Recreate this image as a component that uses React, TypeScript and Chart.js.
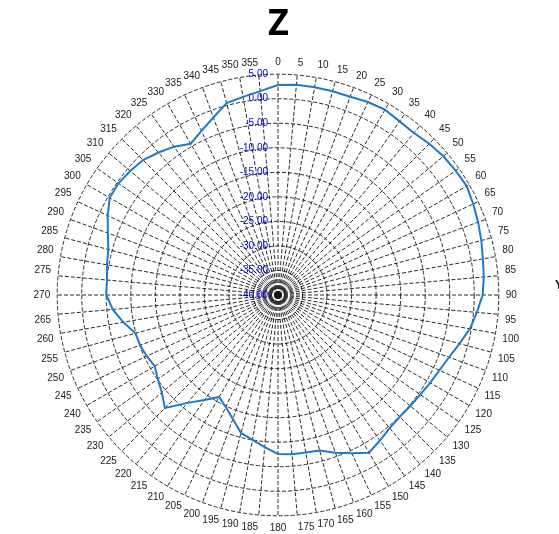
import React, { useEffect, useRef } from "react";
import { Chart, registerables } from "chart.js";

Chart.register(...registerables);

const angleLabels: string[] = [
  "0","5","10","15","20","25","30","35","40","45","50","55",
  "60","65","70","75","80","85","90","95","100","105","110","115",
  "120","125","130","135","140","145","150","155","160","165","170","175",
  "180","185","190","195","200","205","210","215","220","225","230","235",
  "240","245","250","255","260","265","270","275","280","285","290","295",
  "300","305","310","315","320","325","330","335","340","345","350","355",
];

const gainValues: number[] = [
  2.8, 3.0, 3.0, 3.0, 3.0, 3.4, 3.6, 3.2, 3.1, 3.6, 4.0, 4.2,
  4.4, 3.9, 3.4, 2.9, 2.4, 2.1, 1.7, 0.7, -0.3, -1.7, -2.9, -3.7,
  -4.2, -4.6, -4.8, -4.9, -4.6, -3.8, -2.9, -4.4, -5.8, -7.2, -7.4, -7.4,
  -7.6, -8.9, -10.0, -10.9, -13.1, -14.8, -16.0, -13.9, -11.3, -7.4, -9.1, -10.1,
  -11.0, -10.5, -10.1, -9.9, -8.0, -6.2, -5.0, -5.0, -4.6, -4.2, -3.1, -1.7,
  -0.4, -0.3, -0.7, -1.1, -2.1, -3.1, -4.4, -3.1, -1.5, 0.5, 1.0, 1.7,
];

const radialMin = -40;
const radialMax = 5;
const radialStep = 5;
const titleText = "Z";

const tickLabelPlugin = {
  id: "tickLabelPlugin",
  beforeDatasetsDraw(chart: any) {
    const scale = chart.scales.r;
    const ctx = chart.ctx;
    ctx.save();
    ctx.font = "10px 'Liberation Sans', Arial, sans-serif";
    ctx.fillStyle = "#0000e6";
    ctx.textAlign = "right";
    ctx.textBaseline = "middle";
    scale.ticks.forEach((t: any) => {
      const d = scale.getDistanceFromCenterForValue(t.value);
      ctx.fillText(Number(t.value).toFixed(2), scale.xCenter - 10, scale.yCenter - d);
    });
    ctx.restore();
  },
};

export default function App() {
  const canvasRef = useRef<HTMLCanvasElement | null>(null);

  useEffect(() => {
    if (!canvasRef.current) return;
    const chart = new Chart(canvasRef.current, {
      type: "radar",
      data: {
        labels: angleLabels,
        datasets: [
          {
            data: gainValues,
            borderColor: "rgb(32,122,200)",
            borderWidth: 2,
            fill: false,
            pointRadius: 0,
            pointHoverRadius: 0,
            tension: 0,
          },
        ],
      },
      options: {
        animation: false,
        responsive: false,
        layout: { padding: { left: 0, right: 2, top: 0, bottom: 0 } },
        plugins: {
          legend: { display: false },
          tooltip: { enabled: false },
          title: {
            display: true,
            text: titleText,
            color: "#000",
            font: { size: 36, weight: "bold", family: "'Open Sans', sans-serif", lineHeight: 1.2 },
            padding: { top: 3, bottom: 11 },
          },
        },
        scales: {
          r: {
            min: radialMin,
            max: radialMax,
            ticks: { stepSize: radialStep, display: false },
            grid: { circular: true, color: "rgba(20,20,20,0.9)", lineWidth: 1 },
            border: { dash: [4, 2] },
            angleLines: {
              display: true,
              color: "rgba(20,20,20,0.9)",
              lineWidth: 1,
              borderDash: [4, 2],
            },
            pointLabels: {
              display: true,
              color: "#222",
              padding: 7,
              font: { size: 10, family: "'Liberation Sans', Arial, sans-serif", lineHeight: 1 },
            },
          },
        },
      },
      plugins: [tickLabelPlugin],
    } as any);
    return () => chart.destroy();
  }, []);

  return (
    <div style={{ position: "fixed", left: 0, top: 0, width: 559, height: 534, background: "#fff" }}>
      <canvas ref={canvasRef} width={559} height={534} style={{ width: 559, height: 534 }} />
      <div
        style={{
          position: "absolute",
          left: 555,
          top: 278,
          font: "bold 12px 'Liberation Sans', Arial, sans-serif",
          color: "#000",
        }}
      >
        Y
      </div>
    </div>
  );
}
